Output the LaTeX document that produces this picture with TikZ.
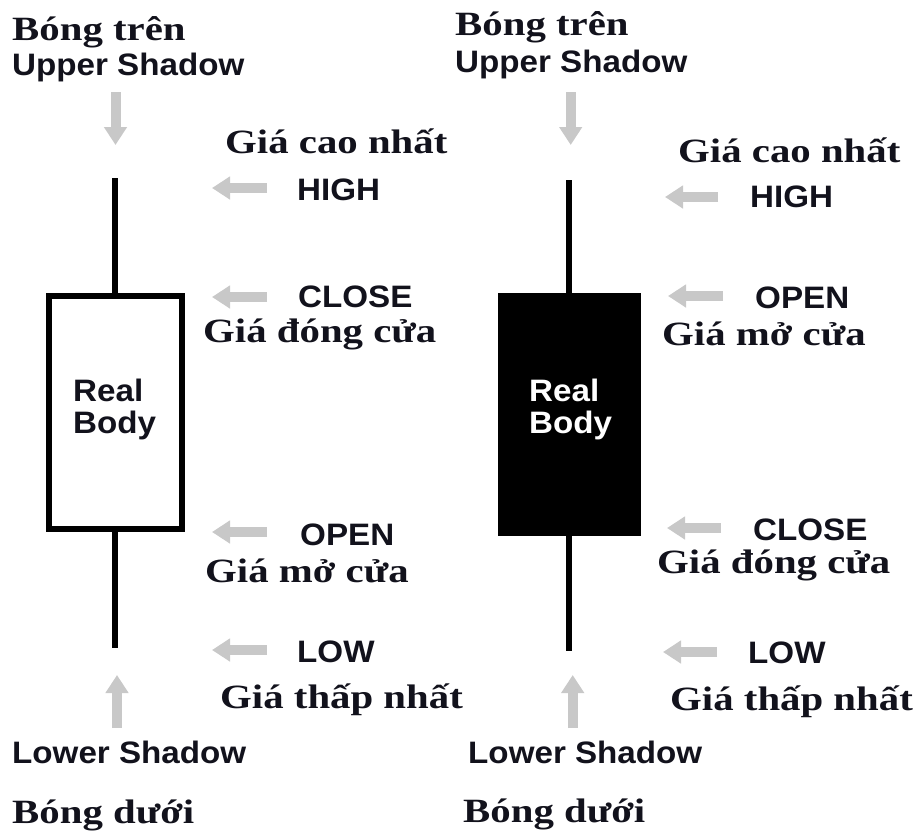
\documentclass[tikz,border=0pt]{standalone}
\usepackage{fontspec}
\setmainfont{Liberation Serif}
\setsansfont{Liberation Sans}
\usetikzlibrary{arrows.meta}
\definecolor{arrowgray}{RGB}{200,200,200}
\definecolor{inkdark}{RGB}{18,18,28}
\begin{document}
\begin{tikzpicture}[x=1pt,y=-1pt,
  sanslbl/.style={anchor=base west, inner sep=0pt, text=inkdark,
    font=\sffamily\bfseries\fontsize{31}{33}\selectfont, xscale=1.07},
  seriflbl/.style={anchor=base west, inner sep=0pt, text=inkdark,
    font=\rmfamily\bfseries\fontsize{34}{36}\selectfont, xscale=1.2},
  pointer/.style={draw=arrowgray, line width=10pt,
    -{Triangle[width=22pt,length=18pt]}},
  wick/.style={draw=black, line width=6.5pt}]
\useasboundingbox[fill=white] (0,0) rectangle (918,833);

% ---------- left candle (white) ----------
\coordinate (lhigh) at (115,178);
\coordinate (llow) at (115,648);
\draw[wick] (lhigh) -- (llow);
\node[draw=black, line width=6pt, fill=white, minimum width=133pt,
      minimum height=233pt, inner sep=0pt] (lbody) at (115.5,412.5) {};
\node[sanslbl] (lreal) at (73,401) {Real};
\node[sanslbl] (lbodyt) at (73,433) {Body};

% ---------- right candle (black) ----------
\coordinate (rhigh) at (569,180);
\coordinate (rlow) at (569,651);
\draw[wick] (rhigh) -- (rlow);
\node[fill=black, draw=none, minimum width=143pt, minimum height=243pt,
      inner sep=0pt] (rbody) at (569.5,414.5) {};
\node[sanslbl, text=white] (rreal) at (529,401) {Real};
\node[sanslbl, text=white] (rbodyt) at (529,433) {Body};

% ---------- left labels ----------
\node[seriflbl] (lbt) at (12,40) {Bóng trên};
\node[sanslbl] (lus) at (12,75) {Upper Shadow};
\node[seriflbl] (lgcn) at (225,153) {Giá cao nhất};
\node[sanslbl] (lhighl) at (297,200) {HIGH};
\node[sanslbl] (lclosel) at (298,307) {CLOSE};
\node[seriflbl] (lgdc) at (203,342) {Giá đóng cửa};
\node[sanslbl] (lopenl) at (300,545) {OPEN};
\node[seriflbl] (lgmc) at (205,582) {Giá mở cửa};
\node[sanslbl] (llowl) at (297,662) {LOW};
\node[seriflbl] (lgtn) at (220,708) {Giá thấp nhất};
\node[sanslbl] (lls) at (12,763) {Lower Shadow};
\node[seriflbl] (lbd) at (12,823) {Bóng dưới};

% ---------- right labels ----------
\node[seriflbl] (rbt) at (455,35) {Bóng trên};
\node[sanslbl] (rus) at (455,72) {Upper Shadow};
\node[seriflbl] (rgcn) at (678,162) {Giá cao nhất};
\node[sanslbl] (rhighl) at (750,207) {HIGH};
\node[sanslbl] (ropenl) at (755,308) {OPEN};
\node[seriflbl] (rgmc) at (662,345) {Giá mở cửa};
\node[sanslbl] (rclosel) at (753,540) {CLOSE};
\node[seriflbl] (rgdc) at (657,573) {Giá đóng cửa};
\node[sanslbl] (rlowl) at (748,663) {LOW};
\node[seriflbl] (rgtn) at (670,710) {Giá thấp nhất};
\node[sanslbl] (rls) at (468,763) {Lower Shadow};
\node[seriflbl] (rbd) at (463,822) {Bóng dưới};

% ---------- arrow anchor points ----------
\coordinate (ludA) at (115.5,92);  \coordinate (ludB) at (115.5,145);
\coordinate (luuA) at (117,728);   \coordinate (luuB) at (117,675);
\coordinate (rudA) at (570.7,92);  \coordinate (rudB) at (570.7,145);
\coordinate (ruuA) at (572.7,728); \coordinate (ruuB) at (572.7,675);

\coordinate (lhA) at (267,188); \coordinate (lhB) at (212,188);
\coordinate (lcA) at (267,297); \coordinate (lcB) at (212,297);
\coordinate (loA) at (267,532); \coordinate (loB) at (212,532);
\coordinate (llA) at (267,650); \coordinate (llB) at (212,650);

\coordinate (rhA) at (718,197); \coordinate (rhB) at (665,197);
\coordinate (roA) at (723,296); \coordinate (roB) at (668,296);
\coordinate (rcA) at (721,528); \coordinate (rcB) at (667,528);
\coordinate (rlA) at (717,652); \coordinate (rlB) at (663,652);

% ---------- gray arrows ----------
\foreach \a/\b in {ludA/ludB, luuA/luuB, rudA/rudB, ruuA/ruuB,
                   lhA/lhB, lcA/lcB, loA/loB, llA/llB,
                   rhA/rhB, roA/roB, rcA/rcB, rlA/rlB}
  \draw[pointer] (\a) -- (\b);
\end{tikzpicture}
\end{document}
